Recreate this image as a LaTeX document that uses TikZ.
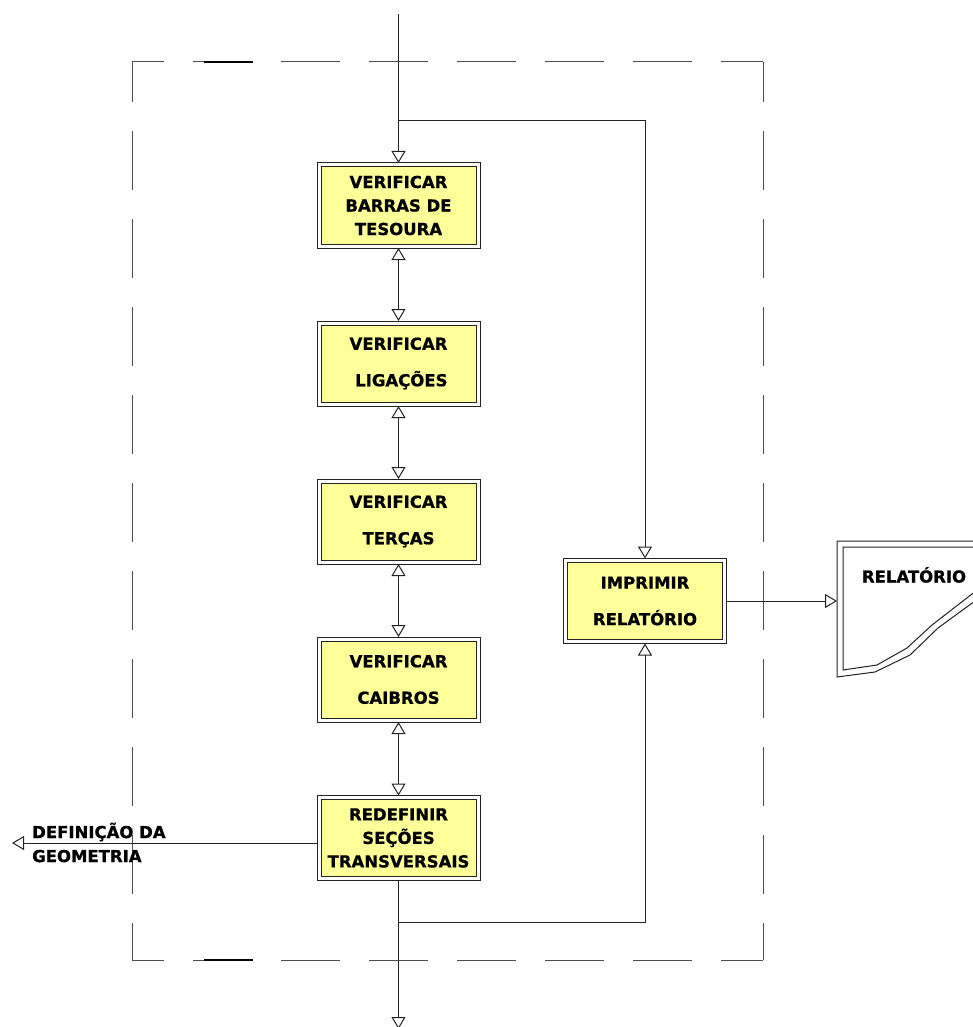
\documentclass[tikz,border=0pt]{standalone}
\usepackage{fontspec}
\setmainfont{DejaVu Sans}[BoldFeatures={FakeBold=0.8}]
\usetikzlibrary{arrows.meta}
\definecolor{boxfill}{HTML}{FFFF99}
\definecolor{ink}{HTML}{222222}
\begin{document}
\begin{tikzpicture}[x=1pt,y=-1pt,
  flow/.style={draw=ink, line width=1pt},
  tip/.style={-{Triangle[open,length=12pt,width=14pt]}},
  twotip/.style={{Triangle[open,length=12pt,width=14pt]}-{Triangle[open,length=12pt,width=14pt]}},
  frame/.style={draw=ink!80, line width=1pt, dash pattern=on 59pt off 29pt},
  process/.style={draw=ink, line width=1pt, fill=boxfill,
    minimum width=155pt, minimum height=77pt, inner sep=0pt, outer sep=4pt,
    align=center, font=\bfseries\fontsize{16.5}{23.5}\selectfont,
    append after command={
      \pgfextra{\draw[ink, line width=1pt]
        (\tikzlastnode.south west) rectangle (\tikzlastnode.north east);}}},
  process2/.style={process, font=\bfseries\fontsize{16.5}{36.5}\selectfont},
  lbl/.style={font=\bfseries\fontsize{16.5}{24}\selectfont, inner sep=0pt}]
\clip (0,0) rectangle (973,1027);
\fill[white] (0,0) rectangle (973,1027);

% dashed boundary of the module
\draw[frame, dash phase=27pt] (132,62) -- (763,62);
\draw[frame, dash phase=27pt] (132,960) -- (763,960);
\draw[frame, dash phase=19pt] (132,62) -- (132,960);
\draw[frame, dash phase=19pt] (763,62) -- (763,960);
\draw[black, line width=1.5pt] (204,62) -- (253,62);
\draw[black, line width=1.5pt] (204,960) -- (253,960);

% process boxes
\node[process]  (b1)  at (398.5,205.5) {VERIFICAR\\BARRAS DE\\TESOURA};
\node[process2] (b2)  at (398.5,363.5) {VERIFICAR\\\ LIGAÇÕES};
\node[process2] (b3)  at (398.5,521.5) {VERIFICAR\\TERÇAS};
\node[process2] (b4)  at (398.5,679.5) {VERIFICAR\\CAIBROS};
\node[process]  (b5)  at (398.5,838)   {REDEFINIR\\SEÇÕES\\TRANSVERSAIS};
\node[process2] (imp) at (645,601)     {IMPRIMIR\\RELATÓRIO};

% report document
\draw[ink, line width=1pt] (990,541) -- (837,541) -- (837,677) -- (875,672)
  -- (910,655) -- (938,628) -- (990,590);
\draw[ink, line width=1pt] (990,547) -- (843,547) -- (843,670) -- (877,665)
  -- (907,648) -- (932,625) -- (990,580);
\coordinate (doc) at (837,601);
\node[lbl] (doctxt) at (914,575) {RELATÓRIO};

% connector end points
\coordinate (in)   at (398.5,14);
\coordinate (fork) at (398.5,121);
\coordinate (out)  at (398.5,1029);
\coordinate (join) at (398.5,922);
\coordinate (geo)  at (12,843);
\node[lbl, anchor=west, align=left] (geotxt) at (32,842.5) {DEFINIÇÃO DA\\GEOMETRIA};

% connectors
\draw[flow, tip] (in) -- (b1.north);
\draw[flow, tip] (fork) -| (imp.north);
\draw[flow, twotip] (b1.south) -- (b2.north);
\draw[flow, twotip] (b2.south) -- (b3.north);
\draw[flow, twotip] (b3.south) -- (b4.north);
\draw[flow, twotip] (b4.south) -- (b5.north);
\draw[flow, tip] (b5.south) -- (out);
\draw[flow, tip] (join) -| (imp.south);
\draw[flow, tip] (imp.east) -- (doc);
\draw[flow, tip] (b5.west |- geo) -- (geo);
\end{tikzpicture}
\end{document}
